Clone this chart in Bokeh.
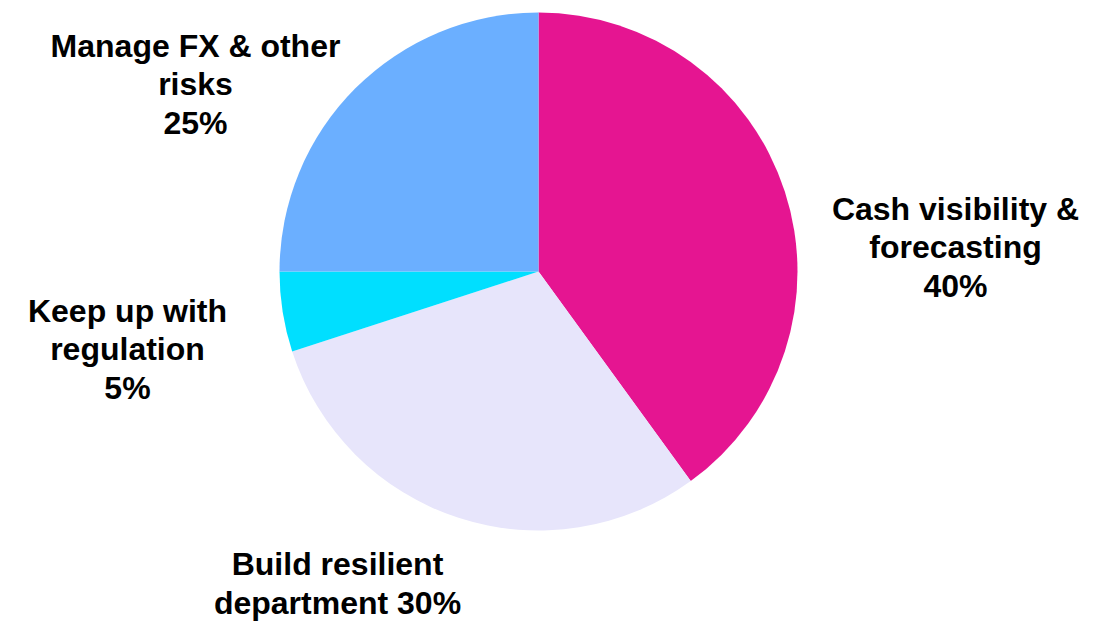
import math
from bokeh.plotting import figure
from bokeh.models import Range1d, ColumnDataSource
from bokeh.core.properties import value
from bokeh.embed import file_html
from bokeh.resources import INLINE

categories = ["Cash visibility & forecasting", "Build resilient department",
              "Keep up with regulation", "Manage FX & other risks"]
shares = [40, 30, 5, 25]
colors = ["#E51591", "#E7E5FB", "#00DFFF", "#6BAFFF"]
label_texts = ["Cash visibility &\nforecasting\n40%",
               "Build resilient\ndepartment 30%",
               "Keep up with\nregulation\n5%",
               "Manage FX & other\nrisks\n25%"]

W, H = 1102, 621
cx, cy, r = 538, H - 271, 259
label_x = [955, 337, 127, 195]
label_y = [H - 247, H - 583, H - 349, H - 84]

total = sum(shares)
starts, ends = [], []
acc = 0.0
for s in shares:
    a0 = math.pi / 2 - 2 * math.pi * acc / total
    acc += s
    a1 = math.pi / 2 - 2 * math.pi * acc / total
    starts.append(a0)
    ends.append(a1)

src = ColumnDataSource(dict(cat=categories, share=shares, color=colors,
                            start=starts, end=ends))

p = figure(width=W, height=H, output_backend="svg", toolbar_location=None,
           x_range=Range1d(0, W), y_range=Range1d(0, H), min_border=0)
p.axis.visible = False
p.grid.visible = False
p.outline_line_color = None
p.background_fill_color = "white"
p.border_fill_color = "white"

p.wedge(x=cx, y=cy, radius=r, start_angle="start", end_angle="end",
        direction="clock", fill_color="color", line_color=None, source=src)

lsrc = ColumnDataSource(dict(x=label_x, y=label_y, t=label_texts))
p.text(x="x", y="y", text="t", source=lsrc, text_align="center",
       text_baseline="middle", text_font=value("Liberation Sans"),
       text_font_style="bold", text_font_size="32px", text_color="black",
       text_line_height=1.08)

open("out.html", "w").write(file_html(p, INLINE))
